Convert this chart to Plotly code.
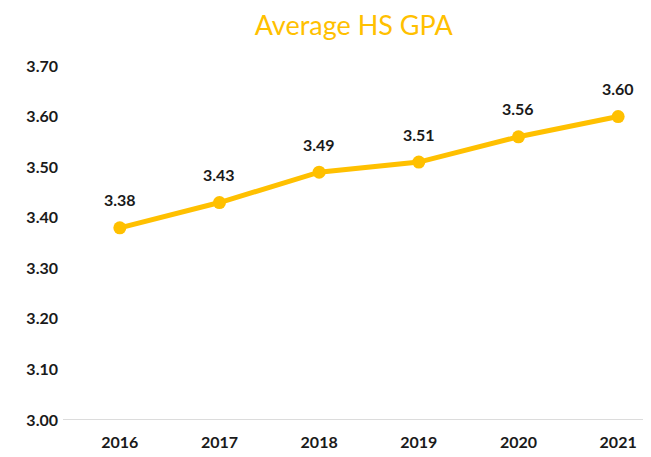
import plotly.graph_objects as go

years = ["2016", "2017", "2018", "2019", "2020", "2021"]
gpa = [3.38, 3.43, 3.49, 3.51, 3.56, 3.60]
ytick_vals = [3.00, 3.10, 3.20, 3.30, 3.40, 3.50, 3.60, 3.70]

gold = "#FFC000"
font_family = "Lato, 'Open Sans', sans-serif"
label_font = dict(family=font_family, size=16, color="#1a1a1a", weight="bold")

fig = go.Figure()
fig.add_trace(go.Scatter(
    x=list(range(len(years))), y=gpa,
    mode="lines+markers",
    line=dict(color=gold, width=5),
    marker=dict(color=gold, size=13),
    cliponaxis=False,
    hoverinfo="skip",
))

for i, v in enumerate(gpa):
    fig.add_annotation(x=i, y=v, text=f"{v:.2f}", showarrow=False,
                       yshift=28, font=label_font, xanchor="center", yanchor="middle")

fig.update_layout(
    width=651, height=457,
    margin=dict(l=55, r=0, t=58, b=45),
    paper_bgcolor="white", plot_bgcolor="white",
    showlegend=False,
    title=dict(text="Average HS GPA", x=0.531, xanchor="center", y=0.962, yanchor="middle",
               font=dict(family=font_family, size=27, color=gold)),
    xaxis=dict(
        range=[-0.57, 5.41],
        tickvals=list(range(len(years))), ticktext=years,
        showgrid=False, zeroline=False,
        showline=False,
        tickfont=label_font,
        ticks="", ticklabelstandoff=11,
    ),
    yaxis=dict(
        range=[3.0, 3.70],
        tickvals=ytick_vals, ticktext=[f"{v:.2f}" for v in ytick_vals],
        showgrid=False, zeroline=False, showline=False,
        tickfont=label_font,
        ticks="", ticklabelposition="outside", ticklabelstandoff=4,
    ),
    shapes=[dict(type="line", xref="paper", yref="y", x0=0, x1=1, y0=3.0, y1=3.0,
                 line=dict(color="#d0d0d0", width=1.5), layer="below")],
)
fig.update_yaxes(automargin=False)
fig.update_xaxes(automargin=False)

fig.write_html("out.html")
